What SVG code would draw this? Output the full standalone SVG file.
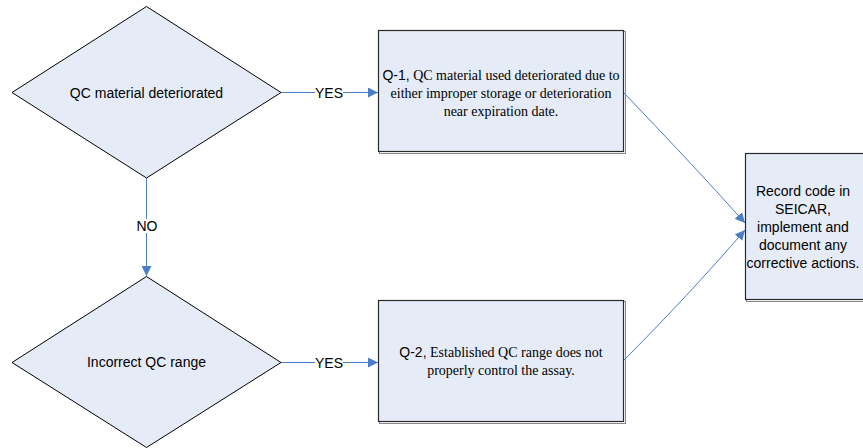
<svg xmlns="http://www.w3.org/2000/svg" width="863" height="448" viewBox="0 0 863 448">
  <defs>
    <marker id="arrow" viewBox="0 0 10 10" refX="10" refY="5" markerWidth="10" markerHeight="10" markerUnits="userSpaceOnUse" orient="auto">
      <path d="M0,0 L10,5 L0,10 Z" fill="#4A7EC8"/>
    </marker>
  </defs>
  <style>
    .decision { fill: #E6ECF7; stroke: #000; stroke-width: 1; }
    .process { fill: #E6ECF7; stroke: #2a2a2a; stroke-width: 1.2; }
    .shadow { fill: none; stroke: #8a8a8a; stroke-width: 1; }
    .sans { font-family: "Liberation Sans", Arial, sans-serif; font-size: 14px; fill: #000; }
    .serif { font-family: "Liberation Serif", "Times New Roman", serif; font-size: 14px; fill: #000; }
    .code { font-family: "Liberation Sans", Arial, sans-serif; font-size: 14px; }
    .conn { fill: none; stroke: #4A7EC8; stroke-width: 1; }
    .label { font-family: "Liberation Sans", Arial, sans-serif; font-size: 14px; fill: #000; text-anchor: middle; }
    .mid { text-anchor: middle; }
  </style>

  <rect width="863" height="448" fill="#fff"/>

  <!-- connectors -->
  <g id="connectors">
    <line class="conn" x1="281" y1="92.5" x2="315" y2="92.5"/>
    <line class="conn" x1="343" y1="92.5" x2="378" y2="92.5" marker-end="url(#arrow)"/>
    <text class="label" x="329" y="97.5">YES</text>

    <line class="conn" x1="146.5" y1="178" x2="146.5" y2="219"/>
    <line class="conn" x1="146.5" y1="233" x2="146.5" y2="276" marker-end="url(#arrow)"/>
    <text class="label" x="147" y="231">NO</text>

    <line class="conn" x1="281" y1="362.5" x2="315" y2="362.5"/>
    <line class="conn" x1="343" y1="362.5" x2="378" y2="362.5" marker-end="url(#arrow)"/>
    <text class="label" x="329" y="367.5">YES</text>

    <path class="conn" d="M624,93 C666,137 706,179 745,223" marker-end="url(#arrow)"/>
    <path class="conn" d="M624,360 C666,318 707,274 745,230" marker-end="url(#arrow)"/>
  </g>

  <!-- decision: QC material deteriorated -->
  <g id="d-deteriorated">
    <polygon class="decision" points="146.5,6.5 281,92.5 146.5,178 12,92.5"/>
    <text class="sans mid" x="146.5" y="97.5">QC material deteriorated</text>
  </g>

  <!-- decision: Incorrect QC range -->
  <g id="d-range">
    <polygon class="decision" points="146.5,276.5 281,362.5 146.5,447.5 12,362.5"/>
    <text class="sans mid" x="146.5" y="367">Incorrect QC range</text>
  </g>

  <!-- process Q-1 -->
  <g id="q1">
    <rect class="shadow" x="379.5" y="31.5" width="246" height="122"/>
    <rect class="process" x="378.5" y="30.5" width="245" height="121"/>
    <text class="serif mid" x="501" y="80"><tspan class="code">Q-1,</tspan> QC material used deteriorated due to</text>
    <text class="serif mid" x="501" y="98">either improper storage or deterioration</text>
    <text class="serif mid" x="501" y="116">near expiration date.</text>
  </g>

  <!-- process Q-2 -->
  <g id="q2">
    <rect class="shadow" x="379.5" y="301.5" width="246" height="122"/>
    <rect class="process" x="378.5" y="300.5" width="245" height="121"/>
    <text class="serif mid" x="501" y="357"><tspan class="code">Q-2,</tspan> Established QC range does not</text>
    <text class="serif mid" x="501" y="375">properly control the assay.</text>
  </g>

  <!-- outcome: record code -->
  <g id="record">
    <rect class="shadow" x="746.5" y="154.5" width="130" height="147"/>
    <rect class="process" x="745.5" y="153.5" width="130" height="146"/>
    <text class="sans mid" x="803" y="196">Record code in</text>
    <text class="sans mid" x="803" y="214">SEICAR,</text>
    <text class="sans mid" x="803" y="232">implement and</text>
    <text class="sans mid" x="803" y="250">document any</text>
    <text class="sans mid" x="803" y="268">corrective actions.</text>
  </g>
</svg>
